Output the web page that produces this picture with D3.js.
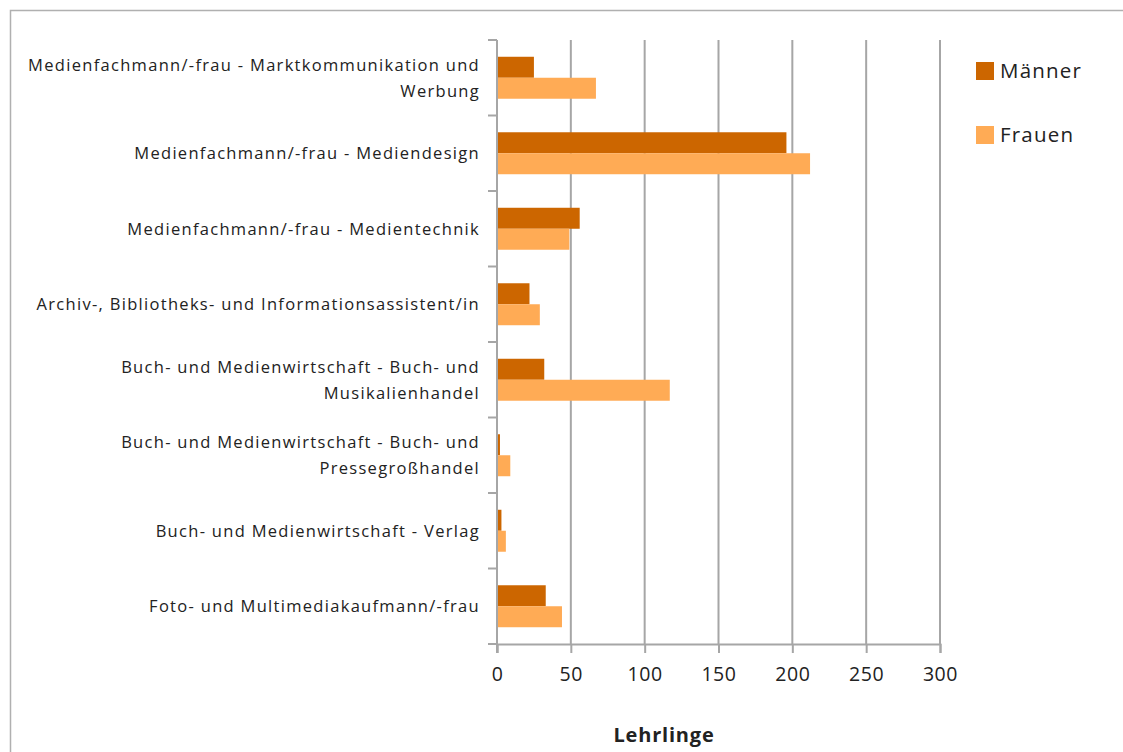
<!DOCTYPE html>
<html>
<head>
<meta charset="utf-8">
<script src="https://cdn.jsdelivr.net/npm/d3@7"></script>
<style>
  body { margin: 0; background: #fff; }
  svg { display: block; font-family: "Open Sans", sans-serif; }
</style>
</head>
<body>
<svg id="chart" width="1123" height="752"></svg>
<script>
// categories (top to bottom), each label split into its lines
const categories = [
  ["Medienfachmann/-frau - Marktkommunikation und", "Werbung"],
  ["Medienfachmann/-frau - Mediendesign"],
  ["Medienfachmann/-frau - Medientechnik"],
  ["Archiv-, Bibliotheks- und Informationsassistent/in"],
  ["Buch- und Medienwirtschaft - Buch- und", "Musikalienhandel"],
  ["Buch- und Medienwirtschaft - Buch- und", "Pressegroßhandel"],
  ["Buch- und Medienwirtschaft - Verlag"],
  ["Foto- und Multimediakaufmann/-frau"]
];
const maenner = [25, 196, 56, 22, 32, 2, 3, 33];
const frauen  = [67, 212, 49, 29, 117, 9, 6, 44];
const seriesNames = ["Männer", "Frauen"];
const seriesColors = ["#cc6600", "#ffab55"];
const xTicks = [0, 50, 100, 150, 200, 250, 300];
const axisTitle = "Lehrlinge";

const svg = d3.select("#chart");
const gridColor = "#a6a6a6";

// outer frame
svg.append("rect")
  .attr("x", 10.5).attr("y", 10.5)
  .attr("width", 1130).attr("height", 760)
  .attr("fill", "none").attr("stroke", "#b0b0b0").attr("stroke-width", 1.5);

const plotLeft = 497, plotRight = 940, plotTop = 40, plotBottom = 644;

const x = d3.scaleLinear().domain([0, 300]).range([plotLeft, plotRight]);
const y0 = d3.scaleBand().domain(d3.range(categories.length))
  .range([plotTop, plotBottom]).paddingInner(0.444).paddingOuter(0.222);
const y1 = d3.scaleBand().domain([0, 1]).range([0, y0.bandwidth()]);

// vertical gridlines
svg.append("g").selectAll("line")
  .data(xTicks.slice(1))
  .join("line")
  .attr("x1", d => x(d)).attr("x2", d => x(d))
  .attr("y1", plotTop).attr("y2", plotBottom)
  .attr("stroke", gridColor).attr("stroke-width", 2);

// bars
const rows = categories.map((c, i) => ({ i, vals: [maenner[i], frauen[i]] }));
const groups = svg.append("g").selectAll("g")
  .data(rows).join("g")
  .attr("transform", d => `translate(0,${y0(d.i)})`);
groups.selectAll("rect")
  .data(d => d.vals.map((v, s) => ({ v, s })))
  .join("rect")
  .attr("x", x(0))
  .attr("y", d => y1(d.s))
  .attr("width", d => x(d.v) - x(0))
  .attr("height", y1.bandwidth())
  .attr("fill", d => seriesColors[d.s]);

// bottom axis
const xAxis = svg.append("g")
  .attr("transform", `translate(0,${plotBottom})`)
  .call(d3.axisBottom(x).tickValues(xTicks).tickSize(9).tickPadding(14));
xAxis.select(".domain").attr("stroke", gridColor).attr("stroke-width", 2);
xAxis.selectAll(".tick line").attr("stroke", gridColor).attr("stroke-width", 2);
xAxis.selectAll("text")
  .attr("font-size", 19.5).attr("fill", "#222")
  .attr("letter-spacing", 0.6)
  .style("font-family", "'Open Sans', sans-serif");

// left axis line with boundary ticks
const boundaries = d3.range(categories.length + 1).map(i => plotTop + i * y0.step());
svg.append("line")
  .attr("x1", plotLeft).attr("x2", plotLeft).attr("y1", plotTop).attr("y2", plotBottom + 9)
  .attr("stroke", gridColor).attr("stroke-width", 2);
svg.append("g").selectAll("line")
  .data(boundaries).join("line")
  .attr("x1", plotLeft - 9).attr("x2", plotLeft)
  .attr("y1", d => d).attr("y2", d => d)
  .attr("stroke", gridColor).attr("stroke-width", 2);

// category labels
const labels = svg.append("g").selectAll("text")
  .data(categories).join("text")
  .attr("text-anchor", "end")
  .attr("font-size", 16.5)
  .attr("letter-spacing", 1.3)
  .attr("fill", "#222");
labels.each(function (lines, i) {
  const cy = y0(i) + y0.bandwidth() / 2;
  const lh = 26;
  const start = cy - (lines.length - 1) * lh / 2;
  d3.select(this).selectAll("tspan")
    .data(lines).join("tspan")
    .attr("x", plotLeft - 17)
    .attr("y", (d, k) => start + k * lh)
    .attr("dy", "0.35em")
    .text(d => d);
});

// axis title
svg.append("text")
  .attr("x", 664).attr("y", 742)
  .attr("text-anchor", "middle")
  .attr("font-size", 20).attr("font-weight", "bold").attr("fill", "#222")
  .attr("letter-spacing", 0.8)
  .text(axisTitle);

// legend
const legend = svg.append("g").selectAll("g")
  .data(seriesNames).join("g")
  .attr("transform", (d, i) => `translate(976,${62 + i * 64})`);
legend.append("rect")
  .attr("width", 18).attr("height", 18)
  .attr("fill", (d, i) => seriesColors[i]);
legend.append("text")
  .attr("x", 24).attr("y", 9).attr("dy", "0.35em")
  .attr("font-size", 20.5).attr("letter-spacing", 1.2).attr("fill", "#222")
  .text(d => d);
</script>
</body>
</html>
